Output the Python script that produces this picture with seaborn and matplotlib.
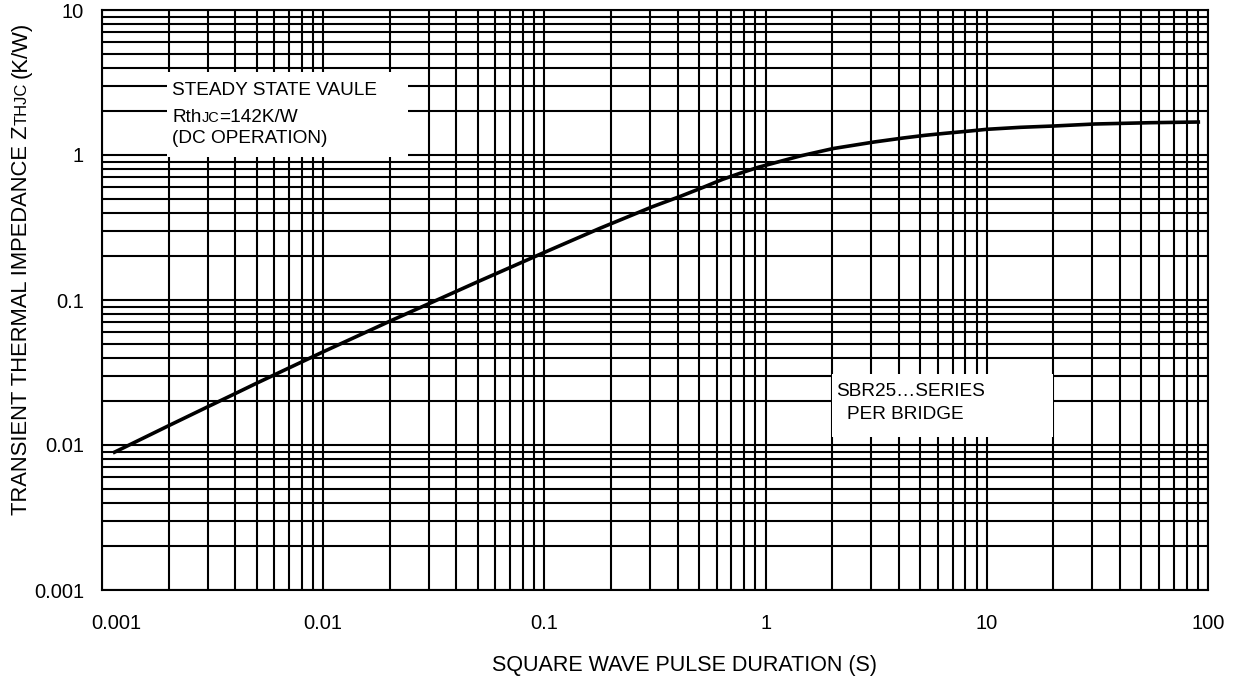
import numpy as np
import pandas as pd
import matplotlib
matplotlib.use("Agg")
import matplotlib.pyplot as plt
import seaborn as sns
from matplotlib.patches import Rectangle
from matplotlib.transforms import ScaledTranslation
from matplotlib.ticker import FixedLocator, FixedFormatter, LogLocator, NullFormatter

# ---- data ----
pulse_s = [0.00112, 0.002, 0.003, 0.004, 0.005, 0.01, 0.02, 0.05, 0.0986,
           0.178, 0.308, 0.415, 0.523, 0.640, 0.766, 0.927, 1.43, 2.02,
           3.09, 4.19, 5.26, 6.47, 8.39, 10.0, 14.2, 20.1, 30.8, 54.7, 92.1]
zth = [0.00881, 0.01358, 0.01832, 0.02262, 0.02668, 0.04393, 0.0714, 0.1337,
       0.211, 0.312, 0.440, 0.521, 0.599, 0.680, 0.748, 0.823, 0.984, 1.108,
       1.229, 1.310, 1.367, 1.411, 1.464, 1.504, 1.552, 1.585, 1.636, 1.670,
       1.689]

x_ticks = [0.001, 0.01, 0.1, 1, 10, 100]
x_tick_labels = ["0.001", "0.01", "0.1", "1", "10", "100"]
y_ticks = [0.001, 0.01, 0.1, 1, 10]
y_tick_labels = ["0.001", "0.01", "0.1", "1", "10"]

W, H = 1238, 681

sns.set_theme(style="white")
plt.rcParams['font.family'] = ['Liberation Sans', 'DejaVu Sans']

fig = plt.figure(figsize=(W / 100, H / 100), dpi=100)
ax = fig.add_axes([102 / W, 1 - 590 / H, 1106 / W, 580 / H])
ax.set_xscale('log')
ax.set_yscale('log')

df = pd.DataFrame({'t': pulse_s, 'z': zth})
sns.lineplot(data=df, x='t', y='z', ax=ax, color='black', lw=2.6, zorder=3,
             solid_joinstyle='round', solid_capstyle='butt')

ax.set_xlim(1e-3, 100)
ax.set_ylim(1e-3, 10)

ax.xaxis.set_major_locator(FixedLocator(x_ticks))
ax.xaxis.set_major_formatter(FixedFormatter(x_tick_labels))
ax.yaxis.set_major_locator(FixedLocator(y_ticks))
ax.yaxis.set_major_formatter(FixedFormatter(y_tick_labels))
ax.xaxis.set_minor_locator(LogLocator(base=10, subs=np.arange(2, 10)))
ax.yaxis.set_minor_locator(LogLocator(base=10, subs=np.arange(2, 10)))
ax.xaxis.set_minor_formatter(NullFormatter())
ax.yaxis.set_minor_formatter(NullFormatter())

ax.set_axisbelow(True)
ax.grid(which='both', color='black', lw=1.5)
ax.tick_params(which='both', length=0, labelsize=14.5, colors='black')
ax.tick_params(axis='x', pad=17)
ax.tick_params(axis='y', pad=13)
for s in ax.spines.values():
    s.set_color('black')
    s.set_linewidth(1.5)

# first x tick label sits a little to the right in the reference
first = ax.xaxis.get_major_ticks()[0].label1
first.set_transform(first.get_transform() + ScaledTranslation(14 / 100, 0, fig.dpi_scale_trans))

ax.set_xlabel("SQUARE WAVE PULSE DURATION (S)", fontsize=15.5, color='black')
ax.xaxis.label.set_va('center')
ax.xaxis.set_label_coords((684 - 102) / 1106, -(666 - 590) / 580)
ax.set_ylabel("")

# white boxes covering the grid
def px_box(x0, y0, x1, y1):
    ax0 = (x0 - 102) / 1106
    ax1 = (x1 - 102) / 1106
    ay0 = 1 - (y1 - 10) / 580
    ay1 = 1 - (y0 - 10) / 580
    ax.add_patch(Rectangle((ax0, ay0), ax1 - ax0, ay1 - ay0, transform=ax.transAxes,
                           facecolor='white', edgecolor='none', zorder=1.5))

px_box(167, 72, 408, 157)
px_box(832, 374, 1053, 437)

renderer = fig.canvas.get_renderer()

def runs(items, x_px, y_px, rotation=0):
    x = x_px
    y = H - y_px
    for s, size, g in items:
        t = fig.text(x / W, y / H, s, fontsize=size, ha='left', va='baseline',
                     rotation=rotation, rotation_mode='anchor', color='black')
        bb = t.get_window_extent(renderer)
        if rotation == 0:
            x += bb.width + g
        else:
            y += bb.height + g

box_fs = 13.7
runs([("STEADY STATE VAULE", box_fs, 0)], 172, 95)
runs([("Rth", box_fs, 0), ("JC", box_fs * 0.76, 0), ("=142K/W", box_fs, 0)], 172, 122)
runs([("(DC OPERATION)", box_fs, 0)], 172, 143)
runs([("SBR25\u2026SERIES", box_fs, 0)], 836, 396)
runs([("PER BRIDGE", box_fs, 0)], 847, 419)

lab_fs = 15.8
runs([("TRANSIENT THERMAL IMPEDANCE Z", lab_fs, 0),
      ("THJC", lab_fs * 0.76, 5),
      ("(K/W)", lab_fs, 0)], 27, 515, rotation=90)

fig.savefig("out.png", dpi=100)
